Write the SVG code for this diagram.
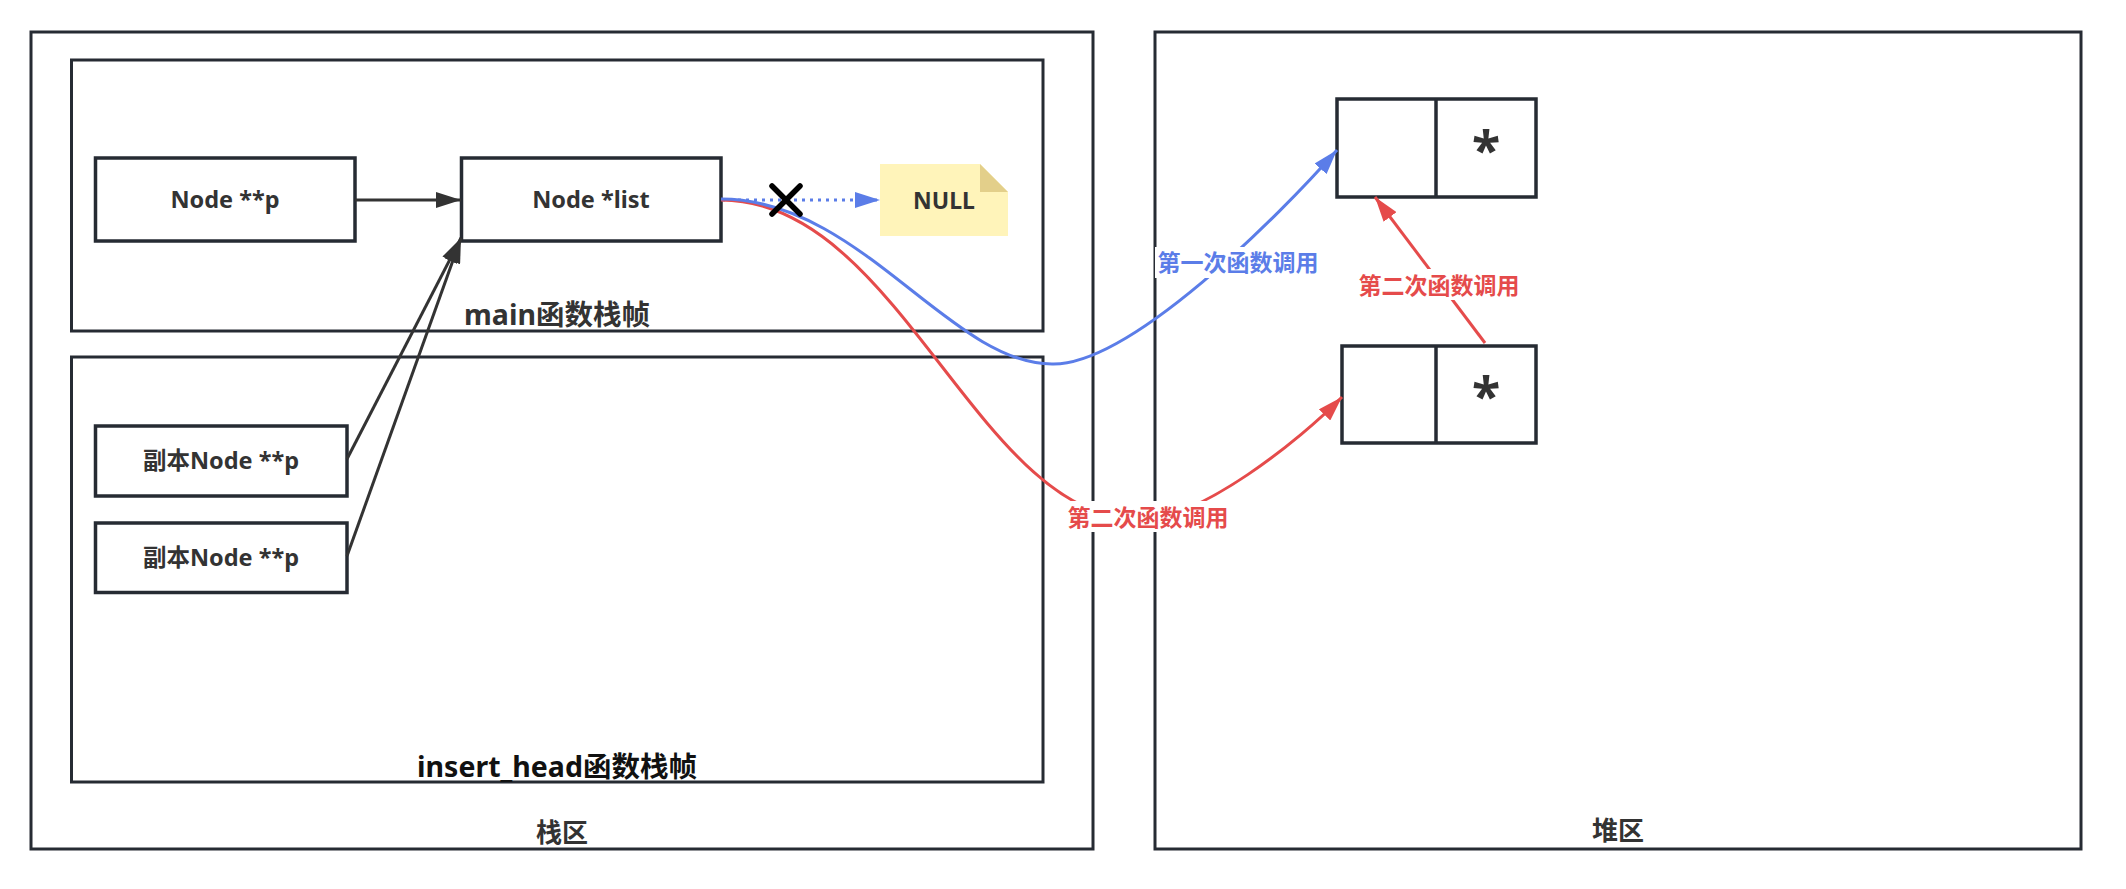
<svg xmlns="http://www.w3.org/2000/svg" width="2126" height="889" viewBox="0 0 2126 889">
<style>
.frame{fill:#fff;stroke:#262b33;stroke-width:3}
.box{fill:#fff;stroke:#262b33;stroke-width:3.5}
.t{font-family:"Noto Sans","Noto Sans CJK SC",sans-serif;font-weight:bold;text-anchor:middle;dominant-baseline:central;fill:#333}
.nt{font-size:23.5px}
.ft{font-size:28.5px}
.lb{font-size:23px}
.blk{fill:none;stroke:#333;stroke-width:3}
.blue{fill:none;stroke:#5B7DE8;stroke-width:3}
.red{fill:none;stroke:#E54B4B;stroke-width:3}
</style>
<defs>
<marker id="ak" viewBox="0 0 25 16" refX="25" refY="8" markerWidth="25" markerHeight="16" markerUnits="userSpaceOnUse" orient="auto"><path d="M0,0 L25,8 L0,16 z" fill="#333"/></marker>
<marker id="ab" viewBox="0 0 25 16" refX="25" refY="8" markerWidth="25" markerHeight="16" markerUnits="userSpaceOnUse" orient="auto"><path d="M0,0 L25,8 L0,16 z" fill="#5B7DE8"/></marker>
<marker id="ar" viewBox="0 0 25 16" refX="25" refY="8" markerWidth="25" markerHeight="16" markerUnits="userSpaceOnUse" orient="auto"><path d="M0,0 L25,8 L0,16 z" fill="#E54B4B"/></marker>
</defs>
<rect width="2126" height="889" fill="#fff"/>

<g id="stack">
<rect class="frame" x="31" y="32" width="1062" height="817"/>
<text class="t" x="562" y="832" font-size="26">栈区</text>
</g>
<g id="heap">
<rect class="frame" x="1155" y="32" width="926" height="817"/>
<text class="t" x="1618" y="830" font-size="26">堆区</text>
</g>
<g id="main-frame">
<rect class="frame" x="71.5" y="60" width="971.5" height="271"/>
<text class="t ft" x="557" y="314">main函数栈帧</text>
</g>
<g id="insert-frame">
<rect class="frame" x="71.5" y="357" width="971.5" height="425"/>
<text class="t ft" x="557" y="766" style="fill:#111">insert_head函数栈帧</text>
</g>

<g id="node-p">
<rect class="box" x="95.5" y="158" width="259.5" height="83"/>
<text class="t nt" x="225" y="199">Node **p</text>
</g>
<g id="node-list">
<rect class="box" x="461.5" y="158" width="259.5" height="83"/>
<text class="t nt" x="591" y="199">Node *list</text>
</g>
<g id="null">
<path d="M880,164 L980,164 L1008,192 L1008,236 L880,236 z" fill="#FFF4BA"/>
<path d="M980,164 L1008,192 L980,192 z" fill="#E3CF8A"/>
<text class="t" x="944" y="200" font-size="23">NULL</text>
</g>
<g id="copy-p1">
<rect class="box" x="95.5" y="426" width="251.5" height="70"/>
<text class="t nt" x="221" y="460">副本Node **p</text>
</g>
<g id="copy-p2">
<rect class="box" x="95.5" y="523" width="251.5" height="69.5"/>
<text class="t nt" x="221" y="557">副本Node **p</text>
</g>
<g id="heap-node1">
<rect class="box" x="1337" y="99" width="199" height="98"/>
<line x1="1436" y1="99" x2="1436" y2="197" stroke="#262b33" stroke-width="3.5"/>
<text class="t" x="1486" y="148" font-size="52">*</text>
</g>
<g id="heap-node2">
<rect class="box" x="1342" y="346" width="194" height="97"/>
<line x1="1436" y1="346" x2="1436" y2="443" stroke="#262b33" stroke-width="3.5"/>
<text class="t" x="1486" y="394" font-size="52">*</text>
</g>

<g id="connectors">
<line class="blk" x1="355" y1="200" x2="461" y2="200" marker-end="url(#ak)"/>
<line class="blk" x1="347" y1="459" x2="461" y2="238" marker-end="url(#ak)"/>
<line class="blk" x1="347" y1="556" x2="461" y2="238" marker-end="url(#ak)"/>
<line class="blue" x1="722" y1="200" x2="880" y2="200" stroke-dasharray="3 5" marker-end="url(#ab)"/>
<path class="red" d="M721,200 C900,200 978,520 1140,520 C1200,520 1300,440 1342,397" marker-end="url(#ar)"/>
<path class="blue" d="M721,199 C860,199 950,364 1052,364 C1130,366 1280,215 1337,150" marker-end="url(#ab)"/>
<g stroke="#000" stroke-width="5.5" stroke-linecap="round">
<line x1="772" y1="186" x2="800" y2="214"/>
<line x1="800" y1="186" x2="772" y2="214"/>
</g>
<line class="red" x1="1485" y1="343" x2="1375" y2="197" marker-end="url(#ar)"/>
<rect x="1155" y="247" width="166" height="31" fill="#fff"/>
<text class="t lb" x="1238" y="262" style="fill:#5B7DE8">第一次函数调用</text>
<rect x="1065" y="501" width="166" height="31" fill="#fff"/>
<text class="t lb" x="1148" y="517" style="fill:#E54B4B">第二次函数调用</text>
<rect x="1356" y="269" width="166" height="31" fill="#fff"/>
<text class="t lb" x="1439" y="285" style="fill:#E54B4B">第二次函数调用</text>
</g>
</svg>
